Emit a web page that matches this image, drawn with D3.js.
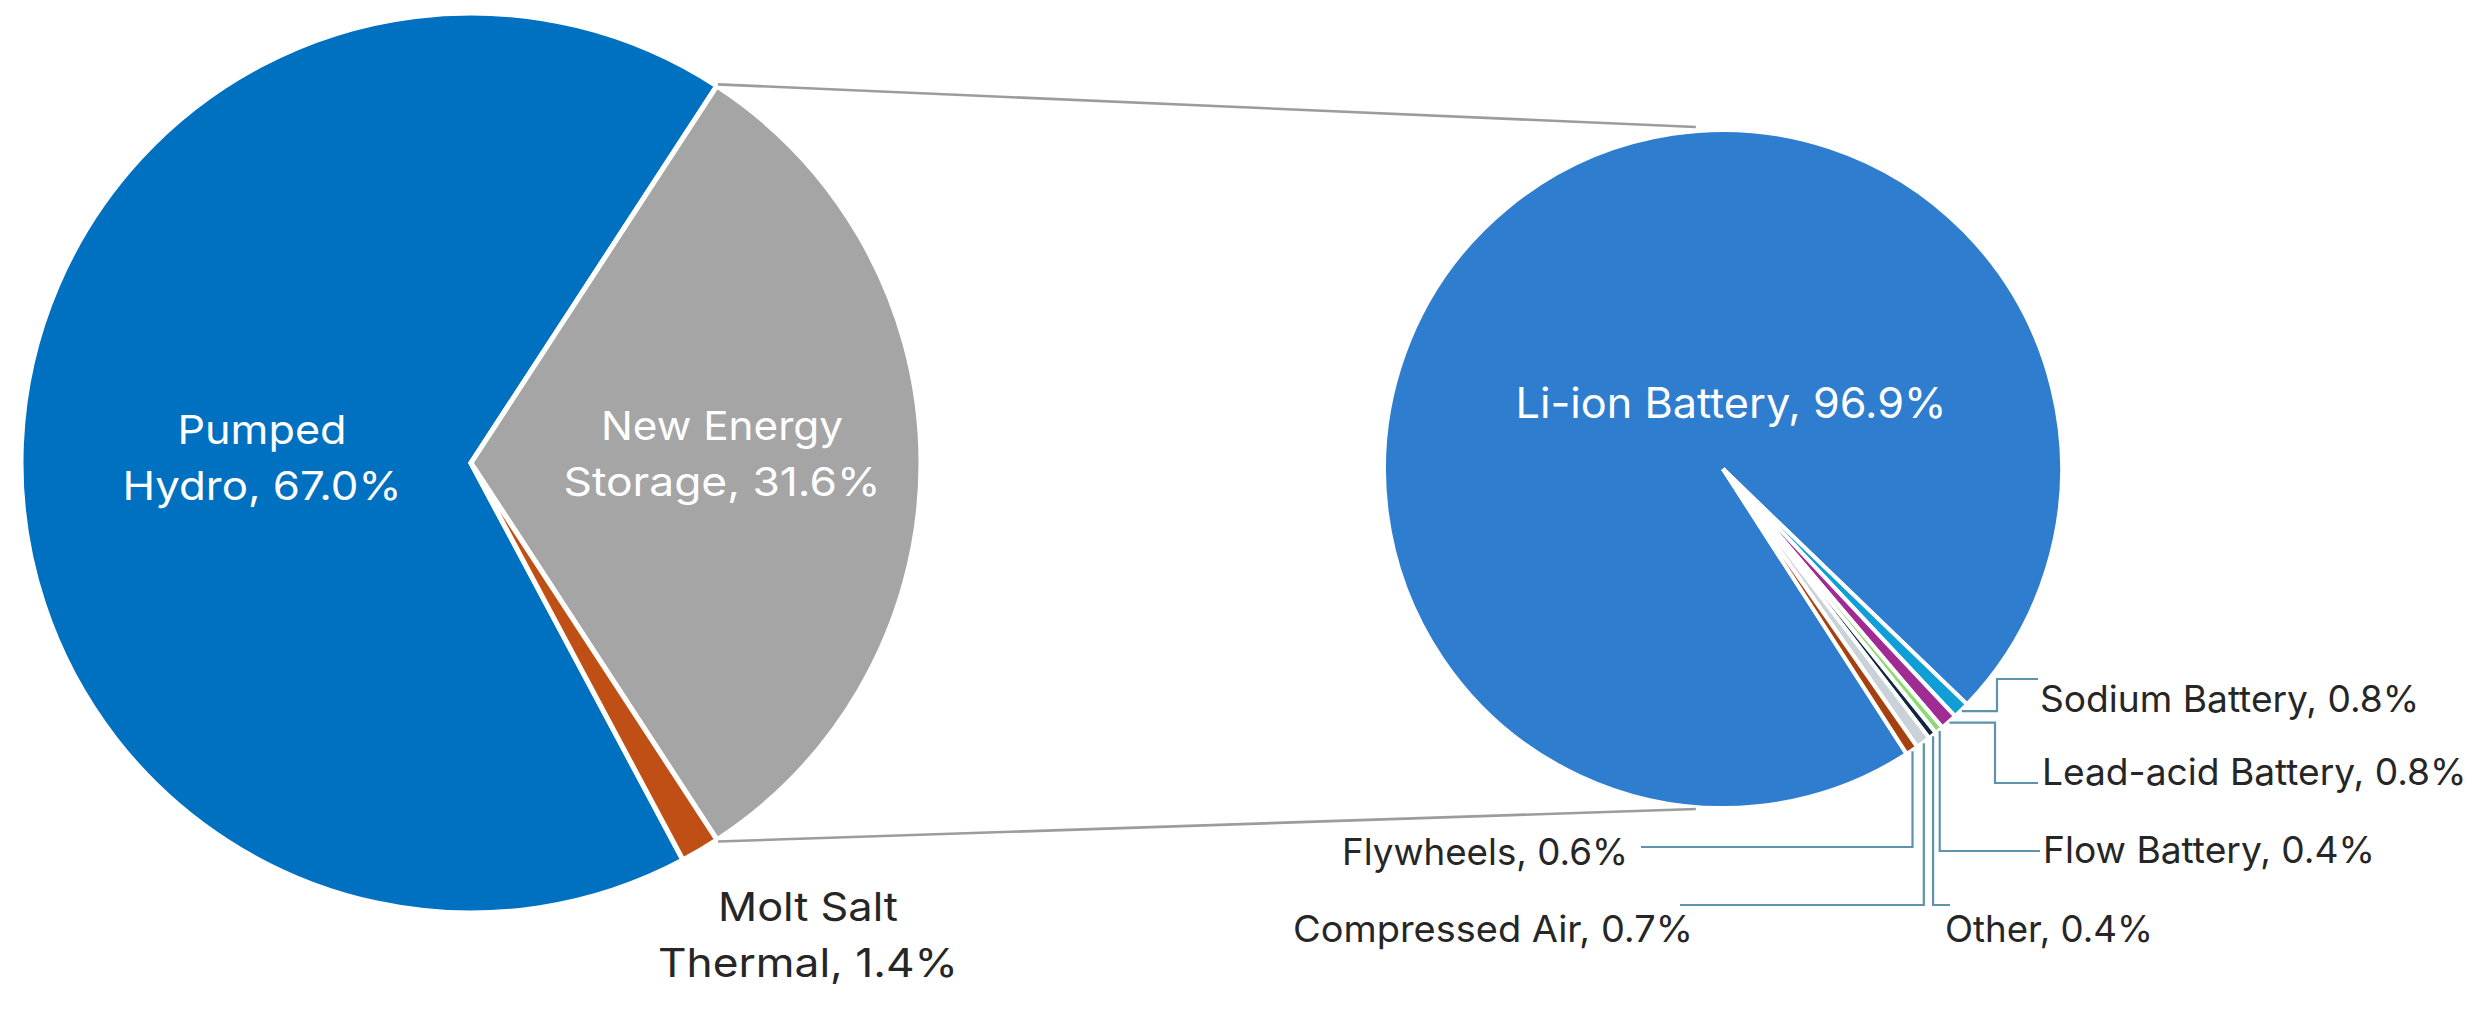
<!DOCTYPE html>
<html><head><meta charset="utf-8">
<script src="https://cdn.jsdelivr.net/npm/d3@7"></script>
<style>html,body{margin:0;padding:0;background:#fff;} svg{display:block;}</style>
</head><body>
<svg id="chart" width="2488" height="1012"></svg>
<script>
// ---------------- data ----------------
const mainCategories = ["Pumped Hydro", "New Energy Storage", "Molt Salt Thermal"];
const mainValues = [67.0, 31.6, 1.4];
const mainColors = ["#0070C0", "#A5A5A5", "#C04F15"];
const splitIndex = 1; // "New Energy Storage" is expanded in the secondary pie

const subCategories = ["Li-ion Battery", "Sodium Battery", "Lead-acid Battery", "Flow Battery", "Other", "Compressed Air", "Flywheels"];
const subValues = [96.9, 0.8, 0.8, 0.4, 0.4, 0.7, 0.6];
const subColors = ["#2E7DCF", "#0F9ED5", "#A02B93", "#8ED973", "#0E2841", "#C9D2D8", "#A5410E"];

// ---------------- layout ----------------
const W = 2488, H = 1012;
const rad = d => d * Math.PI / 180;
const mainPie = {cx: 471, cy: 463, r: 450, start: -208.1, stroke: 5};
const subPie  = {cx: 1723, cy: 469, r: 339, start: 147.2, stroke: 4};
const font = "Inter, 'Open Sans', 'Liberation Sans', sans-serif";

const mainLabelLayout = [
  {x: 262, y: 444, fill: "#FFFFFF", w: [169, 279]},
  {x: 722, y: 440, fill: "#FFFFFF", w: [242, 317]},
  {x: 808, y: 921, fill: "#262626", w: [180, 300]}
];
const mainFontSize = 40, mainLineGap = 56;

const subLabelLayout = [
  {x: 1731, y: 418, anchor: "middle", fill: "#FFFFFF", size: 42, w: 431},
  {x: 2040, y: 712, anchor: "start", fill: "#262626", size: 37},
  {x: 2042, y: 785, anchor: "start", fill: "#262626", size: 37},
  {x: 2043, y: 863, anchor: "start", fill: "#262626", size: 37, w: 332},
  {x: 1945, y: 942, anchor: "start", fill: "#262626", size: 37, w: 208},
  {x: 1693, y: 942, anchor: "end",   fill: "#262626", size: 37, w: 400},
  {x: 1628, y: 865, anchor: "end",   fill: "#262626", size: 37, w: 286}
];
// leader routes: functions of the slice's outer point (sx, sy)
const leaderRoutes = [
  null,
  (sx, sy) => [[sx, sy], [1997, sy], [1997, 679], [2038, 679]],
  (sx, sy) => [[sx, sy], [1995, sy], [1995, 783], [2038, 783]],
  (sx, sy) => [[sx, sy], [sx, 851], [2040, 851]],
  (sx, sy) => [[sx, sy], [sx, 905], [1950, 905]],
  (sx, sy) => [[sx, sy], [sx, 905], [1680, 905]],
  (sx, sy) => [[sx, sy], [sx, 847], [1641, 847]]
];

const pctFmt = v => v.toFixed(1) + "%";

// ---------------- drawing ----------------
const svg = d3.select("#chart");
svg.append("rect").attr("width", W).attr("height", H).attr("fill", "#FFFFFF");

// primary pie
const pieMain = d3.pie().sort(null).value(d => d)
  .startAngle(rad(mainPie.start)).endAngle(rad(mainPie.start + 360));
const arcsMain = pieMain(mainValues);
const arcMain = d3.arc().innerRadius(0).outerRadius(mainPie.r);
const gMain = svg.append("g").attr("transform", `translate(${mainPie.cx},${mainPie.cy})`);
gMain.selectAll("path").data(arcsMain).join("path")
  .attr("d", arcMain)
  .attr("fill", (d, i) => mainColors[i])
  .attr("stroke", "#FFFFFF").attr("stroke-width", mainPie.stroke).attr("stroke-linejoin", "miter");

// secondary pie
const pieSub = d3.pie().sort(null).value(d => d)
  .startAngle(rad(subPie.start)).endAngle(rad(subPie.start + 360));
const arcsSub = pieSub(subValues);
const arcSub = d3.arc().innerRadius(0).outerRadius(subPie.r);
const gSub = svg.append("g").attr("transform", `translate(${subPie.cx},${subPie.cy})`);
gSub.selectAll("path").data(arcsSub).join("path")
  .attr("d", arcSub)
  .attr("fill", (d, i) => subColors[i])
  .attr("stroke", "#FFFFFF").attr("stroke-width", subPie.stroke).attr("stroke-linejoin", "miter");

// connector lines from split slice to secondary pie
const split = arcsMain[splitIndex];
const pt = (cx, cy, r, a) => [cx + r * Math.sin(a), cy - r * Math.cos(a)];
const topStart = pt(mainPie.cx, mainPie.cy, mainPie.r + 2, split.startAngle);
const botStart = pt(mainPie.cx, mainPie.cy, mainPie.r + 2, split.endAngle);
const topEnd = [subPie.cx - 0.08 * subPie.r, subPie.cy - subPie.r - 3];
const botEnd = [subPie.cx - 0.08 * subPie.r, subPie.cy + subPie.r + 1];
const line = d3.line();
svg.append("path").attr("d", line([topStart, topEnd]))
  .attr("stroke", "#9C9C9C").attr("stroke-width", 2.6).attr("fill", "none");
svg.append("path").attr("d", line([botStart, botEnd]))
  .attr("stroke", "#9C9C9C").attr("stroke-width", 2.6).attr("fill", "none");

// leader lines
arcsSub.forEach((d, i) => {
  if (!leaderRoutes[i]) return;
  const mid = (d.startAngle + d.endAngle) / 2;
  const [sx, sy] = pt(subPie.cx, subPie.cy, subPie.r + 1, mid);
  svg.append("path").attr("d", line(leaderRoutes[i](sx, sy)))
    .attr("stroke", "#5E93AB").attr("stroke-width", 2.2).attr("fill", "none");
});

function fitText(textSel, target) {
  textSel.attr("textLength", target).attr("lengthAdjust", "spacingAndGlyphs");
}

// primary labels
const mainLabels = mainCategories.map((c, i) => {
  const words = c.split(" ");
  return [words.slice(0, -1).join(" "), words[words.length - 1] + ", " + pctFmt(mainValues[i])];
});
mainLabels.forEach((lines, i) => {
  const L = mainLabelLayout[i];
  lines.forEach((t, j) => {
    const txt = svg.append("text")
      .attr("x", L.x).attr("y", L.y + j * mainLineGap)
      .attr("text-anchor", "middle")
      .attr("font-family", font).attr("font-size", mainFontSize)
      .attr("fill", L.fill).text(t);
    fitText(txt, L.w[j]);
  });
});

// secondary labels
const subTexts = subCategories.map((c, i) => {
  const L = subLabelLayout[i];
  return svg.append("text")
    .attr("x", L.x).attr("y", L.y)
    .attr("text-anchor", L.anchor)
    .attr("font-family", font).attr("font-size", L.size)
    .attr("fill", L.fill).text(c + ", " + pctFmt(subValues[i]));
});
const ratios = [];
subTexts.forEach((t, i) => {
  const L = subLabelLayout[i];
  if (L.w && i > 0) ratios.push(L.w / t.node().getComputedTextLength());
});
const k = d3.mean(ratios);
subTexts.forEach((t, i) => {
  const L = subLabelLayout[i];
  const natural = t.node().getComputedTextLength();
  fitText(t, L.w ? L.w : natural * k);
});
</script>
</body></html>
